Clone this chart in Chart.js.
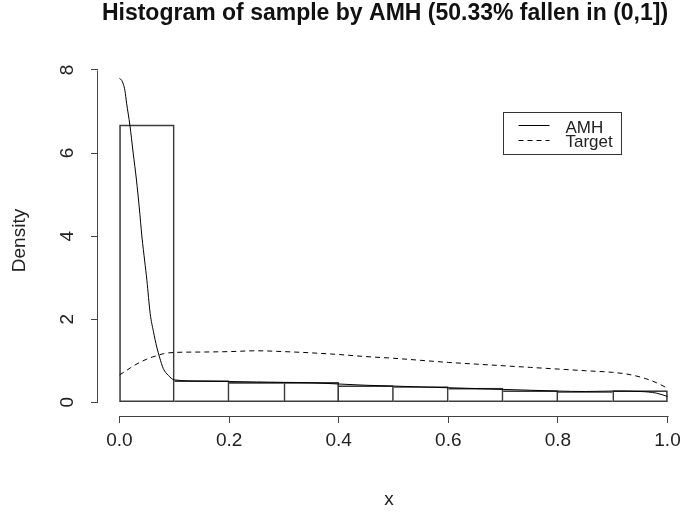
<!DOCTYPE html>
<html>
<head>
<meta charset="utf-8">
<script src="https://cdn.jsdelivr.net/npm/chart.js@4.4.0/dist/chart.umd.min.js"></script>
<style>
  html, body { margin: 0; padding: 0; background: #ffffff; }
  #wrap { width: 680px; height: 514px; }
</style>
</head>
<body>
<div id="wrap"><canvas id="c" width="680" height="514"></canvas></div>
<script>
// Histogram breaks and densities of the AMH sample on (0,1]
const breaks  = [0, 0.1, 0.2, 0.3, 0.4, 0.5, 0.6, 0.7, 0.8, 0.9, 1.0];
const density = [6.68, 0.52, 0.48, 0.48, 0.40, 0.38, 0.34, 0.28, 0.26, 0.28];

// Kernel density of the AMH sample
const amhX = [0, 0.004, 0.007, 0.010, 0.013, 0.019, 0.025, 0.031, 0.036, 0.041, 0.046, 0.050,
              0.056, 0.062, 0.068, 0.073, 0.080, 0.089, 0.100, 0.15, 0.20, 0.25, 0.30, 0.35,
              0.40, 0.45, 0.50, 0.55, 0.60, 0.65, 0.70, 0.75, 0.80, 0.85, 0.90, 0.95, 0.98, 1.00];
const amhY = [7.80, 7.75, 7.66, 7.50, 7.20, 6.67, 6.00, 5.35, 4.70, 3.98, 3.40, 2.94,
              2.14, 1.70, 1.33, 1.09, 0.81, 0.65, 0.54, 0.51, 0.50, 0.49, 0.48, 0.47,
              0.44, 0.41, 0.39, 0.37, 0.35, 0.33, 0.31, 0.29, 0.27, 0.26, 0.27, 0.26, 0.22, 0.14];

// Target density
const tgtX = [0, 0.01, 0.02, 0.03, 0.04, 0.05, 0.06, 0.07, 0.08, 0.10, 0.15, 0.20, 0.25, 0.30,
              0.35, 0.40, 0.45, 0.50, 0.55, 0.60, 0.65, 0.70, 0.75, 0.80, 0.85, 0.90, 0.93,
              0.96, 0.98, 1.00];
const tgtY = [0.66, 0.74, 0.83, 0.91, 0.98, 1.04, 1.09, 1.13, 1.17, 1.20, 1.21, 1.22, 1.24, 1.22,
              1.19, 1.15, 1.10, 1.06, 1.01, 0.96, 0.92, 0.88, 0.84, 0.80, 0.76, 0.72, 0.67,
              0.57, 0.47, 0.34];

const xTicks = [0, 0.2, 0.4, 0.6, 0.8, 1.0];
const yTicks = [0, 2, 4, 6, 8];
const titleText = 'Histogram of sample by AMH (50.33% fallen in (0,1])';
const legendLabels = ['AMH', 'Target'];

// axis limits (plot region in user coordinates)
const xMin = -0.0392, xMax = 1.0228;
const yMin = -0.33, yMax = 8.12;

const FONT = '"Liberation Sans", Arial, Helvetica, sans-serif';
const INK = '#222222';
const AXIS = '#444444';

const bins = density.map((d, i) => ({ x: (breaks[i] + breaks[i + 1]) / 2, y: d }));
const amh = amhX.map((x, i) => ({ x, y: amhY[i] }));
const tgt = tgtX.map((x, i) => ({ x, y: tgtY[i] }));

// each shared edge between two bins is drawn once, by the taller bin
function binBorder(c) {
  const i = c.dataIndex, n = density.length;
  return {
    top: 1,
    bottom: 1,
    left: (i === 0 || density[i] >= density[i - 1]) ? 1 : 0,
    right: (i === n - 1 || density[i] > density[i + 1]) ? 1 : 0
  };
}

// R-style axis lines spanning first to last tick, plus title
const rAxes = {
  id: 'rAxes',
  afterDraw(chart) {
    const { ctx, scales: { x, y }, chartArea } = chart;
    ctx.save();
    ctx.strokeStyle = AXIS;
    ctx.lineWidth = 1;
    ctx.beginPath();
    const ax = Math.round(chartArea.left) - 0.5;
    ctx.moveTo(ax, Math.round(y.getPixelForValue(yTicks[0])) + 0.5);
    ctx.lineTo(ax, Math.round(y.getPixelForValue(yTicks[yTicks.length - 1])) + 0.5);
    const ay = Math.round(chartArea.bottom) + 0.5;
    ctx.moveTo(Math.round(x.getPixelForValue(xTicks[0])) + 0.5, ay);
    ctx.lineTo(Math.round(x.getPixelForValue(xTicks[xTicks.length - 1])) + 0.5, ay);
    ctx.stroke();

    ctx.fillStyle = '#111111';
    ctx.font = 'bold 23px ' + FONT;
    ctx.textAlign = 'center';
    ctx.textBaseline = 'middle';
    ctx.fillText(titleText, 385, 14);
    ctx.restore();
  }
};

// R-style legend box anchored at data coordinates (0.7, 7)
const rLegend = {
  id: 'rLegend',
  afterDraw(chart) {
    const { ctx, scales: { x, y } } = chart;
    const left = Math.round(x.getPixelForValue(0.7)) + 0.5;
    const top = Math.round(y.getPixelForValue(7)) + 0.5;
    const w = 118, h = 42;
    ctx.save();
    ctx.strokeStyle = '#333333';
    ctx.lineWidth = 1;
    ctx.strokeRect(left, top, w, h);
    const sets = [chart.data.datasets[1], chart.data.datasets[2]];
    const lineY = [13, 28];
    const textY = [16, 30];
    sets.forEach((ds, i) => {
      ctx.strokeStyle = ds.borderColor;
      ctx.setLineDash(ds.borderDash || []);
      ctx.beginPath();
      ctx.moveTo(left + 15, top + lineY[i]);
      ctx.lineTo(left + 46, top + lineY[i]);
      ctx.stroke();
    });
    ctx.setLineDash([]);
    ctx.fillStyle = INK;
    ctx.font = '17px ' + FONT;
    ctx.textAlign = 'left';
    ctx.textBaseline = 'middle';
    legendLabels.forEach((t, i) => ctx.fillText(t, left + 62, top + textY[i]));
    ctx.restore();
  }
};

new Chart(document.getElementById('c').getContext('2d'), {
  type: 'bar',
  data: {
    datasets: [
      {
        type: 'bar',
        label: 'sample',
        data: bins,
        backgroundColor: 'rgba(0,0,0,0)',
        borderColor: '#3c3c3c',
        borderWidth: binBorder,
        borderSkipped: false,
        barPercentage: 1,
        categoryPercentage: 1,
        order: 3
      },
      {
        type: 'line',
        label: 'AMH',
        data: amh,
        borderColor: '#000000',
        borderWidth: 1,
        pointRadius: 0,
        fill: false,
        cubicInterpolationMode: 'monotone',
        order: 1
      },
      {
        type: 'line',
        label: 'Target',
        data: tgt,
        borderColor: '#000000',
        borderWidth: 1,
        borderDash: [5, 4],
        pointRadius: 0,
        fill: false,
        cubicInterpolationMode: 'monotone',
        order: 2
      }
    ]
  },
  options: {
    responsive: false,
    animation: false,
    devicePixelRatio: 1,
    layout: { padding: { top: 65, right: 0, bottom: 0, left: 0 } },
    plugins: {
      legend: { display: false },
      title: { display: false },
      tooltip: { enabled: false }
    },
    scales: {
      x: {
        type: 'linear',
        min: xMin,
        max: xMax,
        offset: false,
        afterBuildTicks: (s) => { s.ticks = xTicks.map(v => ({ value: v })); },
        afterFit: (s) => { s.height = 98; s.paddingLeft = 0; s.paddingRight = 0; },
        border: { display: false },
        grid: { offset: false, drawOnChartArea: false, drawTicks: true, tickLength: 7, color: AXIS, lineWidth: 1 },
        ticks: {
          autoSkip: false,
          maxRotation: 0,
          minRotation: 0,
          padding: 6,
          color: INK,
          font: { family: FONT, size: 19 },
          callback: (v) => Number(v).toFixed(1)
        },
        title: {
          display: true,
          text: 'x',
          color: INK,
          font: { family: FONT, size: 19 },
          padding: { top: 0, bottom: 3 }
        }
      },
      y: {
        type: 'linear',
        min: yMin,
        max: yMax,
        afterBuildTicks: (s) => { s.ticks = yTicks.map(v => ({ value: v })); },
        afterFit: (s) => { s.width = 98; s.paddingTop = 0; s.paddingBottom = 0; },
        border: { display: false },
        grid: { drawOnChartArea: false, drawTicks: true, tickLength: 7, color: AXIS, lineWidth: 1 },
        ticks: {
          autoSkip: false,
          minRotation: 90,
          maxRotation: 90,
          crossAlign: 'center',
          padding: 18,
          color: INK,
          font: { family: FONT, size: 19 },
          callback: (v) => String(v)
        },
        title: {
          display: true,
          text: 'Density',
          color: INK,
          font: { family: FONT, size: 19 },
          padding: { top: 8, bottom: 0 }
        }
      }
    }
  },
  plugins: [rAxes, rLegend]
});
</script>
</body>
</html>
